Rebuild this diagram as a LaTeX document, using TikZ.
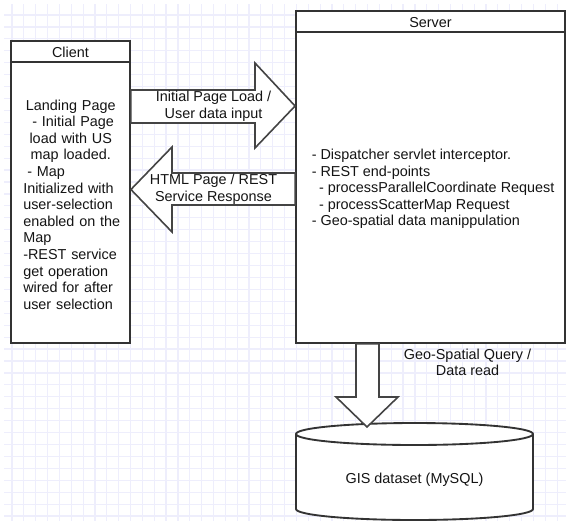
\documentclass[tikz,border=0pt]{standalone}
\usepackage{fontspec}
\setmainfont{Liberation Sans}
\usetikzlibrary{calc}
\definecolor{gridc}{RGB}{238,238,252}
\definecolor{linec}{RGB}{51,51,51}
\definecolor{arrc}{RGB}{68,68,68}
\definecolor{txt}{RGB}{20,20,20}
\tikzset{
  box/.style={draw=linec, line width=1.4pt, fill=white, inner sep=0pt, rectangle},
  lbl/.style={inner sep=0pt, text=txt, font=\fontsize{10.8}{12.45}\selectfont, align=center},
  blockarrow/.style={draw=arrc, line width=1.2pt, fill=white, line join=miter},
  gridline/.style={draw=gridc, line width=0.9pt},
}
\begin{document}
\begin{tikzpicture}[x=0.75pt,y=-0.75pt]
\useasboundingbox (0,0) rectangle (566,521);
\fill[white] (0,0) rectangle (566,521);
% background grid
\begin{scope}
  \clip (4,4) rectangle (566,521);
  \foreach \i in {0,...,47} \draw[gridline] ({12+11.85*\i},4) -- ({12+11.85*\i},521);
  \foreach \j in {0,...,43} \draw[gridline] (4,{15+11.93*\j}) -- (566,{15+11.93*\j});
\end{scope}

% Client
\node[box, minimum width=119*0.75pt, minimum height=302*0.75pt] (client) at (70.5,192) {};
\draw[linec, line width=1.4pt] ($(client.north west)+(0,22)$) -- ($(client.north east)+(0,22)$);
\node[lbl] (clientT) at (70.5,52.5) {Client};
\node[lbl, align=left, anchor=west, text width=80pt] (clientB) at (23,204.5) {%
\makebox[71.25pt]{Landing Page}\\
\makebox[71.25pt]{\ - Initial Page}\\
\makebox[71.25pt]{load with US}\\
\makebox[71.25pt]{map loaded.}\\
\hspace*{3pt}- Map\\
Initialized with\\
user-selection\\
enabled on the\\
Map\\
-REST service\\
get operation\\
wired for after\\
user selection};

% Server
\node[box, minimum width=269*0.75pt, minimum height=332*0.75pt] (server) at (430.5,177) {};
\draw[linec, line width=1.4pt] ($(server.north west)+(0,22)$) -- ($(server.north east)+(0,22)$);
\node[lbl] (serverT) at (430.5,22.5) {Server};
\node[lbl, align=left, anchor=west] (serverB) at (311.5,189) {%
- Dispatcher servlet interceptor.\\
- REST end-points\\
\hspace*{5.5pt}- processParallelCoordinate Request\\
\hspace*{5.5pt}- processScatterMap Request\\
- Geo-spatial data manippulation};

% Client -> Server block arrow
\draw[blockarrow] (client.east |- 0,90) -- (255,90) -- (255,63) -- (server.west |- 0,106)
  -- (255,148) -- (255,123) -- (client.east |- 0,123) -- cycle;
\node[lbl] (a1) at (213.5,106) {Initial Page Load /\\User data input};

% Server -> Client block arrow
\draw[blockarrow] (server.west |- 0,173) -- (172,173) -- (172,147) -- (client.east |- 0,189.5)
  -- (172,232) -- (172,205) -- (server.west |- 0,205) -- cycle;
\node[lbl] (a2) at (213.5,189.5) {HTML Page / REST\\Service Response};

% Database cylinder
\filldraw[fill=white, draw=linec, line width=1.4pt]
  (296,434) -- (296,509) arc[start angle=180, end angle=360, x radius=88.875pt, y radius=8.25pt]
  -- (533,434) arc[start angle=0, end angle=180, x radius=88.875pt, y radius=8.25pt] -- cycle;
\draw[linec, line width=1.4pt] (296,434) arc[start angle=180, end angle=360, x radius=88.875pt, y radius=8.25pt];
\node[lbl] (db) at (414.5,480) {GIS dataset (MySQL)};

% Server -> DB block arrow
\draw[blockarrow] (server.south -| 356,0) -- (356,397) -- (336,397) -- (367,427)
  -- (398,397) -- (379,397) -- (server.south -| 379,0) -- cycle;
\node[lbl] (a3) at (467.5,362.5) {Geo-Spatial Query /\\Data read};
\end{tikzpicture}
\end{document}
